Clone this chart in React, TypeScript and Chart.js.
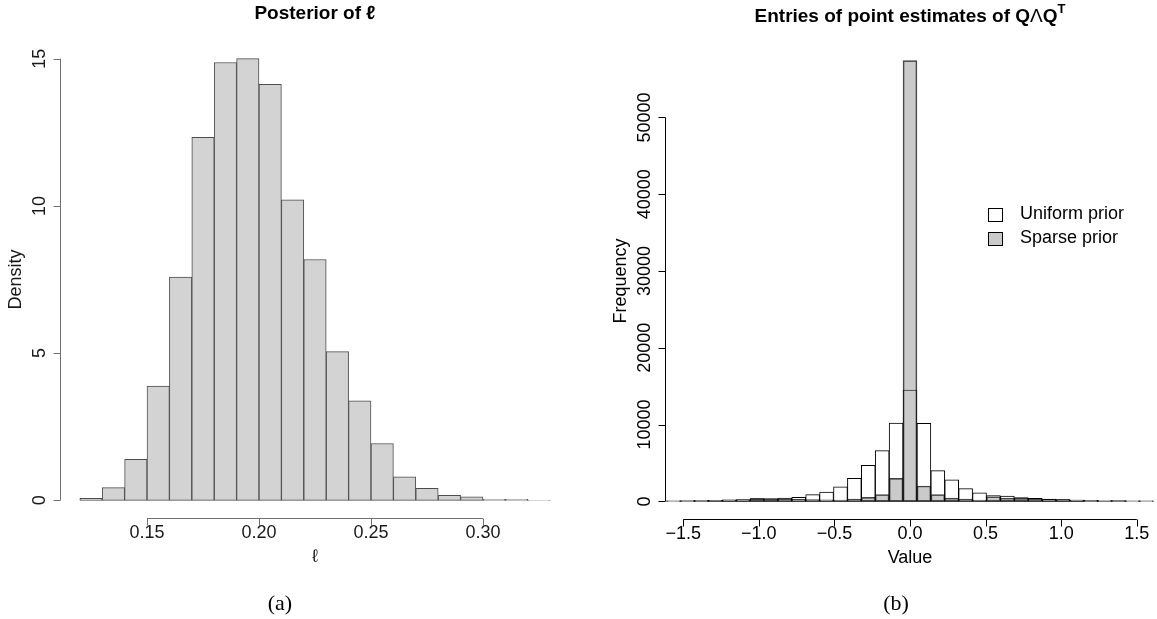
import React, { useEffect, useRef } from 'react';
import { Chart, registerables } from 'chart.js';

Chart.register(...registerables);

// ---------- Panel (a): posterior of ell ----------
const ellBinCenters = [0.125, 0.135, 0.145, 0.155, 0.165, 0.175, 0.185, 0.195, 0.205, 0.215, 0.225,
  0.235, 0.245, 0.255, 0.265, 0.275, 0.285, 0.295, 0.305, 0.315, 0.325];
const ellDensity = [0.07, 0.43, 1.39, 3.88, 7.58, 12.33, 14.87, 15.0, 14.13, 10.21, 8.18,
  5.05, 3.38, 1.93, 0.80, 0.41, 0.17, 0.12, 0.03, 0.03, 0.01];
const ellTicksX = [0.15, 0.2, 0.25, 0.3];
const ellTickLabelsX = ['0.15', '0.20', '0.25', '0.30'];
const densityTicks = [0, 5, 10, 15];
const densityTickLabels = ['0', '5', '10', '15'];

// ---------- Panel (b): entries of point estimates ----------
const valueBinCenters = [-1.564, -1.472, -1.38, -1.288, -1.196, -1.104, -1.012, -0.92, -0.828, -0.736,
  -0.644, -0.552, -0.46, -0.368, -0.276, -0.184, -0.092, 0, 0.092, 0.184, 0.276, 0.368, 0.46, 0.552,
  0.644, 0.736, 0.828, 0.92, 1.012, 1.104, 1.196, 1.288, 1.38, 1.472, 1.564];
const uniformCounts = [80, 100, 120, 150, 190, 230, 280, 330, 430, 520, 870, 1220, 1900, 3000, 4700, 6600, 10200,
  14500,
  10150, 4000, 2800, 1650, 1100, 750, 700, 500, 390, 300, 220, 170, 130, 110, 90, 80, 70];
const sparseCounts = [60, 80, 100, 130, 170, 210, 400, 350, 300, 260, 230, 200, 170, 300, 520, 870, 3000,
  57400,
  2000, 870, 430, 300, 170, 600, 430, 380, 330, 280, 230, 180, 140, 110, 90, 70, 60];
const valueTicksX = [-1.5, -1, -0.5, 0, 0.5, 1, 1.5];
const valueTickLabelsX = ['\u22121.5', '\u22121.0', '\u22120.5', '0.0', '0.5', '1.0', '1.5'];
const freqTicks = [0, 10000, 20000, 30000, 40000, 50000];
const freqTickLabels = ['0', '10000', '20000', '30000', '40000', '50000'];

const legendLabels = ['Uniform prior', 'Sparse prior'];

const SANS = '"Liberation Sans", Arial, Helvetica, sans-serif';

type TitlePart = { t: string; weight: string; size: number; dy: number };

function makeRPlugin(cfg: any) {
  return {
    id: 'rstyle-' + cfg.key,
    afterDraw(chart: any) {
      const ctx = chart.ctx as CanvasRenderingContext2D;
      const xs = chart.scales.x;
      const ys = chart.scales.y;
      const ca = chart.chartArea;
      ctx.save();
      ctx.strokeStyle = cfg.axisColor;
      ctx.fillStyle = cfg.textColor;
      ctx.lineWidth = 1;

      // x axis
      const yAx = Math.round(ca.bottom) + 0.5;
      const x0 = xs.getPixelForValue(cfg.xTicks[0]);
      const x1 = xs.getPixelForValue(cfg.xTicks[cfg.xTicks.length - 1]);
      ctx.beginPath();
      ctx.moveTo(x0, yAx);
      ctx.lineTo(x1, yAx);
      cfg.xTicks.forEach((v: number) => {
        const px = Math.round(xs.getPixelForValue(v)) + 0.5;
        ctx.moveTo(px, yAx);
        ctx.lineTo(px, yAx + 7);
      });
      ctx.stroke();
      ctx.font = `18px ${SANS}`;
      ctx.textAlign = 'center';
      ctx.textBaseline = 'middle';
      cfg.xTicks.forEach((v: number, i: number) => {
        ctx.fillText(cfg.xLabels[i], xs.getPixelForValue(v), ca.bottom + 15);
      });
      ctx.fillText(cfg.xTitle, (ca.left + ca.right) / 2, ca.bottom + 39);

      // y axis
      const xAx = Math.round(ca.left) - 0.5;
      const yy0 = ys.getPixelForValue(cfg.yTicks[0]);
      const yy1 = ys.getPixelForValue(cfg.yTicks[cfg.yTicks.length - 1]);
      ctx.beginPath();
      ctx.moveTo(xAx, yy0);
      ctx.lineTo(xAx, yy1);
      cfg.yTicks.forEach((v: number) => {
        const py = Math.round(ys.getPixelForValue(v)) + 0.5;
        ctx.moveTo(xAx, py);
        ctx.lineTo(xAx - 7, py);
      });
      ctx.stroke();
      cfg.yTicks.forEach((v: number, i: number) => {
        ctx.save();
        ctx.translate(ca.left - 21, ys.getPixelForValue(v));
        ctx.rotate(-Math.PI / 2);
        ctx.fillText(cfg.yLabels[i], 0, 0);
        ctx.restore();
      });
      ctx.save();
      ctx.translate(ca.left - 45, (ca.top + ca.bottom) / 2);
      ctx.rotate(-Math.PI / 2);
      ctx.fillText(cfg.yTitle, 0, 0);
      ctx.restore();

      // title
      const parts: TitlePart[] = cfg.title;
      let total = 0;
      const widths = parts.map((p) => {
        ctx.font = `${p.weight} ${p.size}px ${SANS}`;
        const w = ctx.measureText(p.t).width;
        total += w;
        return w;
      });
      let tx = (ca.left + ca.right) / 2 - total / 2;
      ctx.textAlign = 'left';
      ctx.textBaseline = 'alphabetic';
      ctx.fillStyle = '#000';
      parts.forEach((p, i) => {
        ctx.font = `${p.weight} ${p.size}px ${SANS}`;
        ctx.fillText(p.t, tx, cfg.titleBaseline + p.dy);
        tx += widths[i];
      });

      // legend
      if (cfg.legend) {
        ctx.font = `18px ${SANS}`;
        ctx.textBaseline = 'middle';
        ctx.lineWidth = 1;
        cfg.legend.forEach((item: any, i: number) => {
          const cy = cfg.legendTop + i * 23.5;
          const bx = Math.round(cfg.legendX);
          const by = Math.round(cy - 6.5);
          ctx.fillStyle = '#fff';
          ctx.fillRect(bx, by, 14, 13);
          ctx.fillStyle = item.fill;
          ctx.fillRect(bx, by, 14, 13);
          ctx.strokeStyle = '#000';
          ctx.strokeRect(bx + 0.5, by + 0.5, 14, 13);
          ctx.fillStyle = '#000';
          ctx.fillText(item.label, bx + 32, cy);
        });
      }
      ctx.restore();
    },
  };
}

function HistPanel(props: { build: (c: HTMLCanvasElement) => Chart; width: number; height: number; left: number }) {
  const ref = useRef<HTMLCanvasElement | null>(null);
  useEffect(() => {
    if (!ref.current) return;
    const chart = props.build(ref.current);
    return () => chart.destroy();
  }, []);
  return (
    <canvas
      ref={ref}
      width={props.width}
      height={props.height}
      style={{ position: 'absolute', left: props.left, top: 0, width: props.width, height: props.height }}
    />
  );
}

function buildLeft(canvas: HTMLCanvasElement) {
  const data = ellBinCenters.map((c, i) => ({ x: c, y: ellDensity[i] }));
  return new Chart(canvas, {
    type: 'bar',
    data: {
      datasets: [
        {
          data,
          backgroundColor: '#d3d3d3',
          borderColor: '#4d4d4d',
          borderWidth: 1,
          borderSkipped: false,
          grouped: false,
          barPercentage: 1,
          categoryPercentage: 1,
        } as any,
      ],
    },
    options: {
      responsive: false,
      animation: false,
      events: [],
      layout: { padding: { left: 61, right: 6, top: 41, bottom: 101 } },
      scales: {
        x: {
          type: 'linear', display: false, offset: false, min: 0.1116, max: 0.3384,
          afterBuildTicks: (s: any) => { s.ticks = ellTicksX.map((v) => ({ value: v })); },
        },
        y: {
          type: 'linear', display: false, min: -0.6, max: 15.6,
          afterBuildTicks: (s: any) => { s.ticks = densityTicks.map((v) => ({ value: v })); },
        },
      },
      plugins: { legend: { display: false }, tooltip: { enabled: false } },
    } as any,
    plugins: [
      makeRPlugin({
        key: 'a',
        axisColor: '#707070',
        textColor: '#1a1a1a',
        xTicks: ellTicksX,
        xLabels: ellTickLabelsX,
        yTicks: densityTicks,
        yLabels: densityTickLabels,
        xTitle: '\u2113',
        yTitle: 'Density',
        titleBaseline: 19,
        title: [{ t: 'Posterior of \u2113', weight: 'bold', size: 19, dy: 0 }],
      }),
    ],
  });
}

function buildRight(canvas: HTMLCanvasElement) {
  const uni = valueBinCenters.map((c, i) => ({ x: c, y: uniformCounts[i] }));
  const sp = valueBinCenters.map((c, i) => ({ x: c, y: sparseCounts[i] }));
  const sparseFill = 'rgba(128,128,128,0.42)';
  return new Chart(canvas, {
    type: 'bar',
    data: {
      datasets: [
        {
          label: legendLabels[0],
          data: uni,
          order: 2,
          backgroundColor: '#ffffff',
          borderColor: '#000000',
          borderWidth: 1,
          borderSkipped: false,
          grouped: false,
          barPercentage: 1,
          categoryPercentage: 1,
        } as any,
        {
          label: legendLabels[1],
          data: sp,
          order: 1,
          backgroundColor: sparseFill,
          borderColor: 'rgba(0,0,0,0.75)',
          borderWidth: 1,
          borderSkipped: false,
          grouped: false,
          barPercentage: 1,
          categoryPercentage: 1,
        } as any,
      ],
    },
    options: {
      responsive: false,
      animation: false,
      events: [],
      layout: { padding: { left: 88, right: 3, top: 43, bottom: 100 } },
      scales: {
        x: {
          type: 'linear', display: false, offset: false, min: -1.614, max: 1.614,
          afterBuildTicks: (s: any) => { s.ticks = valueTicksX.map((v) => ({ value: v })); },
        },
        y: {
          type: 'linear', display: false, min: -2296, max: 59696,
          afterBuildTicks: (s: any) => { s.ticks = freqTicks.map((v) => ({ value: v })); },
        },
      },
      plugins: { legend: { display: false }, tooltip: { enabled: false } },
    } as any,
    plugins: [
      makeRPlugin({
        key: 'b',
        axisColor: '#000000',
        textColor: '#000000',
        xTicks: valueTicksX,
        xLabels: valueTickLabelsX,
        yTicks: freqTicks,
        yLabels: freqTickLabels,
        xTitle: 'Value',
        yTitle: 'Frequency',
        titleBaseline: 22,
        title: [
          { t: 'Entries of point estimates of Q', weight: 'bold', size: 19, dy: 0 },
          { t: '\u039B', weight: 'normal', size: 19, dy: 0 },
          { t: 'Q', weight: 'bold', size: 19, dy: 0 },
          { t: 'T', weight: 'bold', size: 13, dy: -9 },
        ],
        legend: [
          { label: legendLabels[0], fill: '#ffffff' },
          { label: legendLabels[1], fill: sparseFill },
        ],
        legendX: 988 - 578,
        legendTop: 214.5,
      }),
    ],
  });
}

export default function App() {
  useEffect(() => {
    document.body.style.margin = '0';
  }, []);
  const cap: React.CSSProperties = {
    position: 'absolute',
    top: 590,
    width: 80,
    textAlign: 'center',
    fontFamily: '"Liberation Serif", "Times New Roman", serif',
    fontSize: 22,
    lineHeight: '26px',
    color: '#000',
  };
  return (
    <div style={{ position: 'fixed', left: 0, top: 0, width: 1157, height: 619, background: '#fff', overflow: 'hidden' }}>
      <HistPanel build={buildLeft} width={575} height={619} left={0} />
      <HistPanel build={buildRight} width={579} height={619} left={578} />
      <div style={{ ...cap, left: 280 - 40 }}>(a)</div>
      <div style={{ ...cap, left: 896 - 40 }}>(b)</div>
    </div>
  );
}
